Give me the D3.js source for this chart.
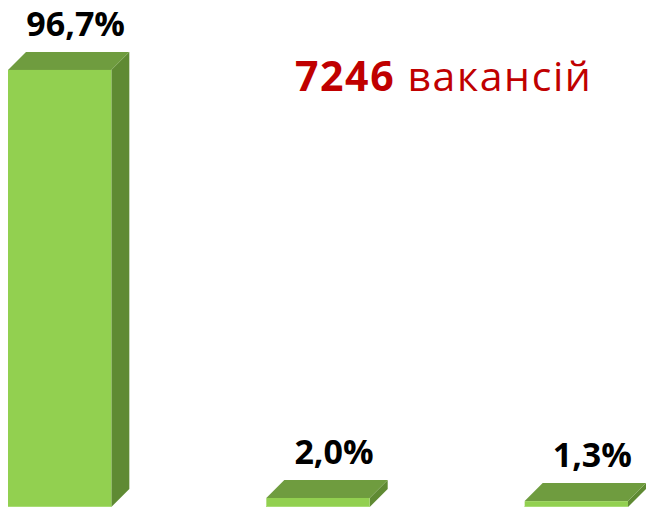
<!DOCTYPE html>
<html>
<head>
<meta charset="utf-8">
<script src="https://d3js.org/d3.v7.min.js"></script>
<style>
  body { margin: 0; background: #fff; }
  svg text { font-family: "Open Sans", sans-serif; }
</style>
</head>
<body>
<svg width="646" height="516"></svg>
<script>
  // chart data
  var categories = ["1", "2", "3"];
  var values = [96.7, 2.0, 1.3];
  var labels = ["96,7%", "2,0%", "1,3%"];
  var titleNumber = "7246";
  var titleWord = " вакансій";

  var width = 646, height = 516;
  var depth = 18;

  var svg = d3.select("svg");

  var x = d3.scaleBand()
    .domain(categories)
    .range([8, 628])
    .paddingInner(0.6)
    .paddingOuter(0);

  var y = d3.scaleLinear().domain([0, 100]).range([507, 55]);

  var bars = svg.selectAll("g.bar")
    .data(values)
    .enter()
    .append("g")
    .attr("class", "bar");

  // side face
  bars.append("polygon")
    .attr("fill", "#5F8A33")
    .attr("points", function (d, i) {
      var x1 = x(categories[i]) + x.bandwidth();
      return [
        [x1, y(d)], [x1 + depth, y(d) - depth],
        [x1 + depth, y(0) - depth], [x1, y(0)]
      ].join(" ");
    });

  // top face
  bars.append("polygon")
    .attr("fill", "#6F9C3F")
    .attr("points", function (d, i) {
      var x0 = x(categories[i]), x1 = x0 + x.bandwidth();
      return [
        [x0, y(d)], [x0 + depth, y(d) - depth],
        [x1 + depth, y(d) - depth], [x1, y(d)]
      ].join(" ");
    });

  // front face
  bars.append("rect")
    .attr("fill", "#92D050")
    .attr("x", function (d, i) { return x(categories[i]); })
    .attr("y", function (d) { return y(d); })
    .attr("width", x.bandwidth())
    .attr("height", function (d) { return y(0) - y(d); });

  bars.append("line")
    .attr("stroke", "#A8DD74")
    .attr("x1", function (d, i) { return x(categories[i]); })
    .attr("x2", function (d, i) { return x(categories[i]) + x.bandwidth(); })
    .attr("y1", y(0) - 0.5)
    .attr("y2", y(0) - 0.5);

  // value labels
  bars.append("text")
    .attr("x", function (d, i) { return x(categories[i]) + x.bandwidth() / 2 + 16; })
    .attr("y", function (d) { return y(d) - depth - 16; })
    .attr("text-anchor", "middle")
    .attr("font-size", 34)
    .attr("font-weight", "bold")
    .attr("fill", "#000")
    .text(function (d, i) { return labels[i]; });

  // title
  var title = svg.append("text")
    .attr("x", 295)
    .attr("y", 91)
    .attr("font-size", 41)
    .attr("letter-spacing", 1.6)
    .attr("fill", "#C00000");
  title.append("tspan").attr("font-weight", "bold").text(titleNumber);
  title.append("tspan").text(titleWord);
</script>
</body>
</html>
